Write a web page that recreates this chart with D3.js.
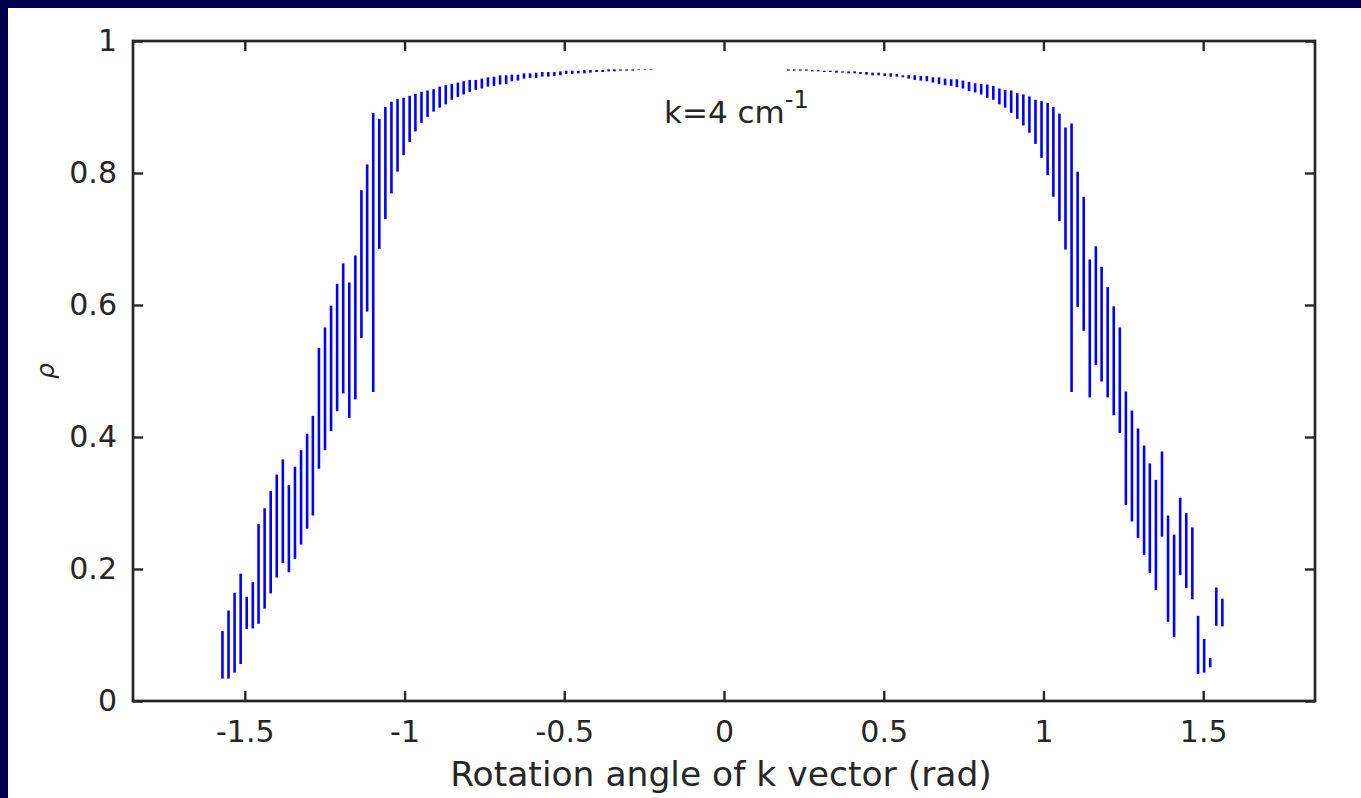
<!DOCTYPE html>
<html>
<head>
<meta charset="utf-8">
<script src="https://cdn.jsdelivr.net/npm/d3@7"></script>
<style>
  body { margin: 0; background: #00004f; }
  text { font-family: "DejaVu Sans", sans-serif; fill: #262626; }
</style>
</head>
<body>
<svg id="chart" width="1361" height="798"></svg>
<script>
// rotation angle of each sample (rad), left branch then right branch
const angles = [
  -1.570, -1.551, -1.532, -1.513, -1.494, -1.475, -1.457, -1.438, -1.419, -1.400,
  -1.381, -1.362, -1.343, -1.324, -1.305, -1.287, -1.268, -1.249, -1.230, -1.211,
  -1.192, -1.173, -1.154, -1.135, -1.117, -1.098, -1.079, -1.060, -1.041, -1.022,
  -1.003, -0.984, -0.966, -0.947, -0.928, -0.909, -0.890, -0.871, -0.852, -0.833,
  -0.815, -0.796, -0.777, -0.758, -0.739, -0.720, -0.701, -0.682, -0.664, -0.645,
  -0.626, -0.607, -0.588, -0.569, -0.550, -0.531, -0.512, -0.494, -0.475, -0.456,
  -0.437, -0.418, -0.399, -0.380, -0.361, -0.343, -0.324, -0.305, -0.286, -0.267,
  -0.248, -0.229,
  0.201, 0.220, 0.239, 0.258, 0.276, 0.295, 0.314, 0.333, 0.352, 0.371,
  0.390, 0.409, 0.427, 0.446, 0.465, 0.484, 0.503, 0.522, 0.541, 0.560,
  0.578, 0.597, 0.616, 0.635, 0.654, 0.673, 0.692, 0.711, 0.729, 0.748,
  0.767, 0.786, 0.805, 0.824, 0.843, 0.862, 0.880, 0.899, 0.918, 0.937,
  0.956, 0.975, 0.994, 1.013, 1.031, 1.050, 1.069, 1.088, 1.107, 1.126,
  1.145, 1.164, 1.182, 1.201, 1.220, 1.239, 1.258, 1.277, 1.296, 1.315,
  1.333, 1.352, 1.371, 1.390, 1.409, 1.428, 1.447, 1.466, 1.484, 1.503,
  1.522, 1.541, 1.560
];

// lower end of each rho interval
const rhoLow = [
  0.034, 0.034, 0.043, 0.056, 0.109, 0.110, 0.117, 0.140, 0.163, 0.187,
  0.209, 0.195, 0.215, 0.237, 0.261, 0.281, 0.352, 0.380, 0.409, 0.439,
  0.466, 0.429, 0.457, 0.550, 0.590, 0.468, 0.685, 0.730, 0.769, 0.802,
  0.827, 0.847, 0.863, 0.876, 0.885, 0.893, 0.899, 0.904, 0.911, 0.915,
  0.919, 0.923, 0.926, 0.928, 0.931, 0.932, 0.934, 0.935, 0.939, 0.940,
  0.943, 0.944, 0.944, 0.946, 0.946, 0.947, 0.948, 0.950, 0.950, 0.951,
  0.951, 0.952, 0.953, 0.953, 0.954, 0.954, 0.955, 0.955, 0.955, 0.956,
  0.956, 0.956,
  0.955, 0.955, 0.955, 0.955, 0.954, 0.954, 0.953, 0.953, 0.952, 0.952,
  0.951, 0.951, 0.950, 0.949, 0.948, 0.948, 0.947, 0.946, 0.946, 0.945,
  0.943, 0.941, 0.940, 0.939, 0.937, 0.935, 0.933, 0.932, 0.930, 0.928,
  0.924, 0.922, 0.919, 0.914, 0.911, 0.904, 0.899, 0.891, 0.882, 0.872,
  0.861, 0.844, 0.823, 0.797, 0.764, 0.727, 0.684, 0.468, 0.597, 0.561,
  0.460, 0.509, 0.484, 0.460, 0.433, 0.406, 0.297, 0.272, 0.247, 0.221,
  0.194, 0.168, 0.249, 0.120, 0.097, 0.191, 0.171, 0.154, 0.041, 0.043,
  0.051, 0.114, 0.113
];

// upper end of each rho interval
const rhoHigh = [
  0.106, 0.137, 0.164, 0.193, 0.158, 0.180, 0.268, 0.292, 0.318, 0.343,
  0.366, 0.327, 0.355, 0.380, 0.405, 0.432, 0.535, 0.566, 0.599, 0.632,
  0.663, 0.634, 0.675, 0.774, 0.813, 0.891, 0.882, 0.900, 0.908, 0.912,
  0.914, 0.917, 0.920, 0.923, 0.925, 0.927, 0.931, 0.933, 0.935, 0.937,
  0.939, 0.941, 0.941, 0.943, 0.945, 0.946, 0.948, 0.948, 0.949, 0.949,
  0.951, 0.951, 0.952, 0.953, 0.953, 0.953, 0.954, 0.955, 0.955, 0.955,
  0.956, 0.956, 0.956, 0.956, 0.957, 0.957, 0.957, 0.957, 0.957, 0.957,
  0.957, 0.957,
  0.957, 0.957, 0.957, 0.957, 0.956, 0.956, 0.955, 0.955, 0.955, 0.954,
  0.954, 0.954, 0.953, 0.953, 0.952, 0.952, 0.951, 0.951, 0.950, 0.948,
  0.948, 0.948, 0.947, 0.947, 0.945, 0.945, 0.943, 0.942, 0.942, 0.940,
  0.938, 0.936, 0.935, 0.934, 0.932, 0.928, 0.926, 0.925, 0.921, 0.919,
  0.916, 0.911, 0.909, 0.906, 0.900, 0.890, 0.869, 0.875, 0.802, 0.764,
  0.669, 0.689, 0.658, 0.627, 0.598, 0.566, 0.469, 0.440, 0.413, 0.387,
  0.360, 0.335, 0.378, 0.281, 0.252, 0.308, 0.285, 0.263, 0.129, 0.094,
  0.065, 0.172, 0.155
];

const xTicks = [-1.5, -1, -0.5, 0, 0.5, 1, 1.5];
const yTicks = [0, 0.2, 0.4, 0.6, 0.8, 1];
const xDomain = [-1.85, 1.85];
const yDomain = [0, 1];

const svg = d3.select("#chart");
const boxLeft = 133, boxTop = 41, boxRight = 1315, boxBottom = 701; // plot box in px
const axisColor = "#262626";

// white figure area over the navy slide background
svg.append("rect").attr("x", 0).attr("y", 0).attr("width", 1361).attr("height", 798).attr("fill", "#00004f");
svg.append("rect").attr("x", 8).attr("y", 8).attr("width", 1353).attr("height", 790).attr("fill", "#ffffff");

const x = d3.scaleLinear().domain(xDomain).range([boxLeft, boxRight]);
const y = d3.scaleLinear().domain(yDomain).range([boxBottom, boxTop]);

// combine the arrays for the data join
const bars = angles.map((a, i) => ({ a: a, lo: rhoLow[i], hi: rhoHigh[i] }));

svg.append("g")
  .selectAll("line")
  .data(bars)
  .enter()
  .append("line")
  .attr("x1", (d) => x(d.a))
  .attr("x2", (d) => x(d.a))
  .attr("y1", (d) => y(d.lo))
  .attr("y2", (d) => y(d.hi))
  .attr("stroke", "#0000ff")
  .attr("stroke-width", 2.6);

// axes, ticks inward on all four sides (box on)
const tickLen = 10;
function styleAxis(g) {
  g.selectAll("path.domain").remove();
  g.selectAll(".tick line").attr("stroke", axisColor).attr("stroke-width", 2.4);
  g.selectAll(".tick text").attr("fill", axisColor).style("font-size", "30px")
    .style("font-family", "DejaVu Sans, sans-serif");
}

svg.append("g")
  .attr("transform", "translate(0," + boxBottom + ")")
  .call(d3.axisBottom(x).tickValues(xTicks).tickSize(-tickLen).tickPadding(20).tickFormat((d) => String(d)))
  .call(styleAxis);

svg.append("g")
  .attr("transform", "translate(0," + boxTop + ")")
  .call(d3.axisTop(x).tickValues(xTicks).tickSize(-tickLen).tickFormat(""))
  .call(styleAxis);

svg.append("g")
  .attr("transform", "translate(" + boxLeft + ",0)")
  .call(d3.axisLeft(y).tickValues(yTicks).tickSize(-tickLen).tickPadding(16).tickFormat((d) => String(d)))
  .call(styleAxis);

svg.append("g")
  .attr("transform", "translate(" + boxRight + ",0)")
  .call(d3.axisRight(y).tickValues(yTicks).tickSize(-tickLen).tickFormat(""))
  .call(styleAxis);

// box
svg.append("rect")
  .attr("x", boxLeft).attr("y", boxTop)
  .attr("width", boxRight - boxLeft).attr("height", boxBottom - boxTop)
  .attr("fill", "none")
  .attr("stroke", axisColor)
  .attr("stroke-width", 2.7);

// axis labels
svg.append("text")
  .attr("x", 721)
  .attr("y", 786)
  .attr("text-anchor", "middle")
  .style("font-size", "34.5px")
  .text("Rotation angle of k vector (rad)");

svg.append("text")
  .attr("transform", "translate(54," + (boxTop + boxBottom) / 2 + ") rotate(-90)")
  .attr("text-anchor", "middle")
  .style("font-size", "25px")
  .style("font-style", "italic")
  .text("ρ");

// annotation
const note = svg.append("text")
  .attr("x", 664)
  .attr("y", 123)
  .style("font-size", "31px");
note.append("tspan").text("k=4 cm");
note.append("tspan").attr("dy", -15).style("font-size", "24px").text("-1");
</script>
</body>
</html>
